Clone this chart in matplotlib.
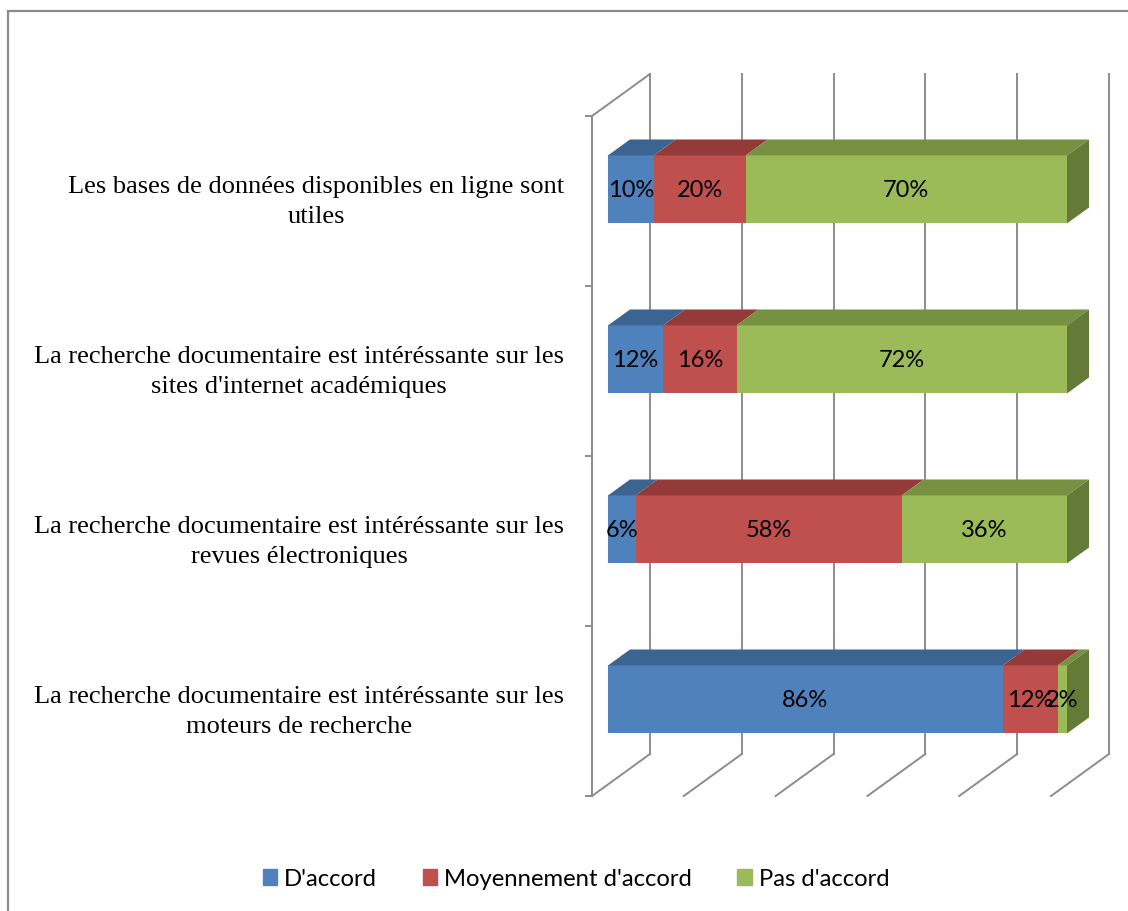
import matplotlib.pyplot as plt
from matplotlib.patches import Polygon, Patch, Rectangle

# data (top to bottom as shown)
categories = [
    "Les bases de données disponibles en ligne sont\nutiles",
    "La recherche documentaire est intéréssante sur les\nsites d'internet académiques",
    "La recherche documentaire est intéréssante sur les\nrevues électroniques",
    "La recherche documentaire est intéréssante sur les\nmoteurs de recherche",
]
series_names = ["D'accord", "Moyennement d'accord", "Pas d'accord"]
d_accord = [10, 12, 6, 86]
moyen = [20, 16, 58, 12]
pas_accord = [70, 72, 36, 2]

front_cols = ["#4F81BD", "#C0504D", "#9BBB59"]
top_cols = ["#3C6491", "#943B39", "#769241"]
side_cols = ["#335580", "#7E3230", "#647A37"]

W, H = 1128, 912
fig = plt.figure(figsize=(W / 100, H / 100), dpi=100)
ax = fig.add_axes([0, 0, 1, 1])

# pixel layout of the fake 3d plot area
x0_px, sx = 592, 4.59      # 0% on front plane, px per percent
y0_px, sy = 797, 170       # floor on front plane, px per category
ax.set_xlim(-x0_px / sx, (W - x0_px) / sx)
ax.set_ylim(-(H - y0_px) / sy, y0_px / sy)
ax.axis('off')

DX = 58 / sx   # full depth offset in data units
DY = 42 / sy


def proj(x, y, d):
    return (x + d * DX, y + d * DY)


n = len(categories)
grid_col = "#8c8c8c"

# walls / floor
for t in range(0, 101, 20):
    bx, by0 = proj(t, 0, 1)
    _, by1 = proj(t, n, 1)
    ax.plot([bx, bx], [by0, by1], color=grid_col, lw=1.4, zorder=1)
    fx, fy = proj(t, 0, 0)
    ax.plot([fx, bx], [fy, by0], color=grid_col, lw=1.4, zorder=1)
ax.plot([0, 0], [0, n], color=grid_col, lw=1.4, zorder=1)
tx, ty = proj(0, n, 1)
ax.plot([0, tx], [n, ty], color=grid_col, lw=1.4, zorder=1)
for k in range(n + 1):
    ax.plot([-6 / sx, 0], [k, k], color=grid_col, lw=1.4, zorder=1)

# bars
d0, d1 = 16 / 58, 38 / 58
bh = 0.4
series = [d_accord, moyen, pas_accord]
for k, cat in enumerate(categories):
    yc = n - 1 - k + 0.5
    left = 0
    last = max(j for j in range(3) if series[j][k] > 0)
    for j, vals in enumerate(series):
        v = vals[k]
        fx, fy = proj(left, yc, d0)
        ax.barh(fy, v, left=fx, height=bh, color=front_cols[j], zorder=3)
        top = [proj(left, yc + bh / 2, d0), proj(left + v, yc + bh / 2, d0),
               proj(left + v, yc + bh / 2, d1), proj(left, yc + bh / 2, d1)]
        ax.add_patch(Polygon(top, closed=True, fc=top_cols[j], ec='none', zorder=3))
        if j == last:
            side = [proj(left + v, yc - bh / 2, d0), proj(left + v, yc + bh / 2, d0),
                    proj(left + v, yc + bh / 2, d1), proj(left + v, yc - bh / 2, d1)]
            ax.add_patch(Polygon(side, closed=True, fc=side_cols[j], ec='none', zorder=3))
        lx, ly = proj(left + v / 2, yc, d0)
        ax.text(lx, ly, f"{v}%", ha='center', va='center', fontsize=17,
                family='Lato', zorder=5)
        left += v
    lx, ly = proj(0, yc, 0)
    ax.text(lx - 28 / sx, ly, cat, ha='right', va='center', multialignment='center',
            fontsize=19, family='Liberation Serif', linespacing=1.45)

handles = [Patch(color=c) for c in front_cols]
fig.legend(handles, series_names, loc='center', bbox_to_anchor=(576 / W, 1 - 880 / H),
           ncol=3, frameon=False, prop={'family': 'Lato', 'size': 17.2},
           handlelength=0.6, handleheight=0.6, handletextpad=0.3, columnspacing=1.9)

fig.patches.append(Rectangle((8 / W, -0.05), 1.2, (H - 12) / H + 0.05,
                             transform=fig.transFigure, fill=False,
                             ec='#8a8a8a', lw=1.6))

fig.savefig("out.png", dpi=100)
